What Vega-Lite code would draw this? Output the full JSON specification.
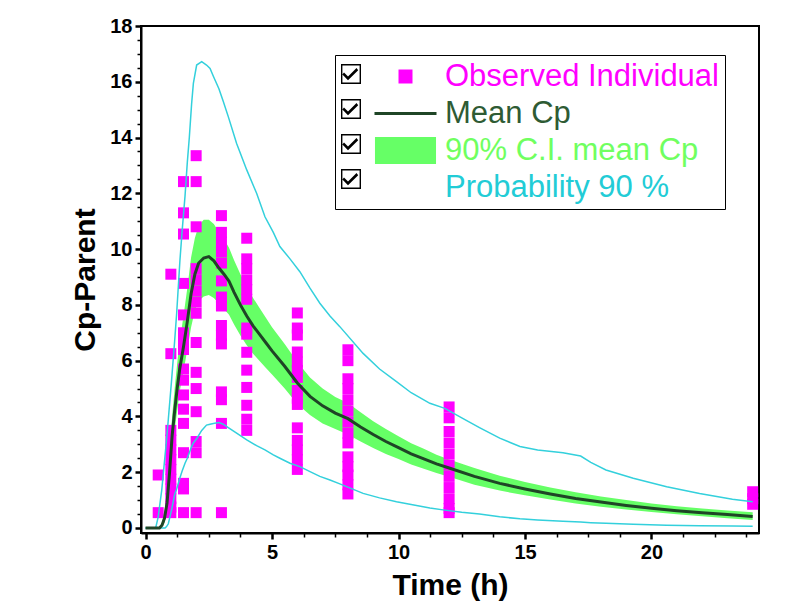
{
  "$schema": "https://vega.github.io/schema/vega-lite/v6.json",
  "width": 618,
  "height": 507,
  "autosize": {"type": "none"},
  "padding": {"left": 141, "top": 26, "right": 33, "bottom": 77},
  "background": "white",
  "config": {
    "view": {"stroke": "black", "strokeWidth": 2},
    "font": "Liberation Sans",
    "axis": {
      "labelFont": "Liberation Sans Narrow, Liberation Sans",
      "labelFontWeight": "bold",
      "labelFontSize": 20,
      "labelColor": "black",
      "titleFont": "Liberation Sans",
      "titleFontWeight": "bold",
      "titleFontSize": 30,
      "titleColor": "black",
      "domainColor": "black",
      "domainWidth": 2,
      "tickColor": "black",
      "grid": false
    }
  },
  "datasets": {
    "obs": [
      {"t": 0.5, "c": 1.9}, {"t": 0.5, "c": 0.55},
      {"t": 1, "c": 9.1}, {"t": 1, "c": 6.25}, {"t": 1, "c": 3.5}, {"t": 1, "c": 3.15}, {"t": 1, "c": 2.8}, {"t": 1, "c": 2.45}, {"t": 1, "c": 2.1}, {"t": 1, "c": 1.75}, {"t": 1, "c": 1.4}, {"t": 1, "c": 1.05}, {"t": 1, "c": 0.75}, {"t": 1, "c": 0.55},
      {"t": 1.5, "c": 12.42}, {"t": 1.5, "c": 11.3}, {"t": 1.5, "c": 10.54}, {"t": 1.5, "c": 8.77}, {"t": 1.5, "c": 7.64}, {"t": 1.5, "c": 7.0}, {"t": 1.5, "c": 6.7}, {"t": 1.5, "c": 6.4}, {"t": 1.5, "c": 5.7}, {"t": 1.5, "c": 5.3}, {"t": 1.5, "c": 4.77}, {"t": 1.5, "c": 4.26}, {"t": 1.5, "c": 3.75}, {"t": 1.5, "c": 2.7}, {"t": 1.5, "c": 1.6}, {"t": 1.5, "c": 1.4}, {"t": 1.5, "c": 0.55},
      {"t": 2, "c": 13.35}, {"t": 2, "c": 12.42}, {"t": 2, "c": 10.8}, {"t": 2, "c": 9.3}, {"t": 2, "c": 8.9}, {"t": 2, "c": 8.5}, {"t": 2, "c": 8.1}, {"t": 2, "c": 7.7}, {"t": 2, "c": 6.65}, {"t": 2, "c": 5.58}, {"t": 2, "c": 5.0}, {"t": 2, "c": 4.17}, {"t": 2, "c": 3.1}, {"t": 2, "c": 2.7}, {"t": 2, "c": 0.55},
      {"t": 3, "c": 11.2}, {"t": 3, "c": 10.6}, {"t": 3, "c": 10.25}, {"t": 3, "c": 9.9}, {"t": 3, "c": 9.5}, {"t": 3, "c": 8.86}, {"t": 3, "c": 8.28}, {"t": 3, "c": 7.96}, {"t": 3, "c": 7.26}, {"t": 3, "c": 6.9}, {"t": 3, "c": 6.6}, {"t": 3, "c": 4.88}, {"t": 3, "c": 4.6}, {"t": 3, "c": 3.75}, {"t": 3, "c": 0.55},
      {"t": 4, "c": 10.39}, {"t": 4, "c": 9.65}, {"t": 4, "c": 9.3}, {"t": 4, "c": 8.9}, {"t": 4, "c": 8.55}, {"t": 4, "c": 8.2}, {"t": 4, "c": 7.17}, {"t": 4, "c": 6.95}, {"t": 4, "c": 6.3}, {"t": 4, "c": 5.66}, {"t": 4, "c": 5.04}, {"t": 4, "c": 4.4}, {"t": 4, "c": 3.9}, {"t": 4, "c": 3.5},
      {"t": 6, "c": 7.71}, {"t": 6, "c": 7.17}, {"t": 6, "c": 6.92}, {"t": 6, "c": 6.31}, {"t": 6, "c": 5.95}, {"t": 6, "c": 5.65}, {"t": 6, "c": 5.4}, {"t": 6, "c": 4.93}, {"t": 6, "c": 4.65}, {"t": 6, "c": 4.43}, {"t": 6, "c": 3.59}, {"t": 6, "c": 3.14}, {"t": 6, "c": 2.8}, {"t": 6, "c": 2.45}, {"t": 6, "c": 2.1},
      {"t": 8, "c": 6.39}, {"t": 8, "c": 6.0}, {"t": 8, "c": 5.35}, {"t": 8, "c": 5.0}, {"t": 8, "c": 4.6}, {"t": 8, "c": 4.2}, {"t": 8, "c": 3.8}, {"t": 8, "c": 3.4}, {"t": 8, "c": 3.05}, {"t": 8, "c": 2.55}, {"t": 8, "c": 2.2}, {"t": 8, "c": 1.9}, {"t": 8, "c": 1.55}, {"t": 8, "c": 1.22},
      {"t": 12, "c": 4.34}, {"t": 12, "c": 3.95}, {"t": 12, "c": 3.46}, {"t": 12, "c": 3.05}, {"t": 12, "c": 2.65}, {"t": 12, "c": 2.25}, {"t": 12, "c": 1.85}, {"t": 12, "c": 1.45}, {"t": 12, "c": 1.05}, {"t": 12, "c": 0.7}, {"t": 12, "c": 0.55},
      {"t": 24, "c": 1.3}, {"t": 24, "c": 1.05}, {"t": 24, "c": 0.85}
    ],
    "ci": [
      {"t": 0, "m": 0, "lo": 0, "hi": 0},
      {"t": 0.55, "m": 0, "lo": 0, "hi": 0},
      {"t": 0.65, "m": 0.1, "lo": 0.05, "hi": 0.2},
      {"t": 0.75, "m": 0.35, "lo": 0.2, "hi": 0.6},
      {"t": 0.85, "m": 0.9, "lo": 0.6, "hi": 1.4},
      {"t": 0.95, "m": 2.0, "lo": 1.5, "hi": 2.7},
      {"t": 1.05, "m": 3.3, "lo": 2.6, "hi": 4.0},
      {"t": 1.15, "m": 4.2, "lo": 3.5, "hi": 5.0},
      {"t": 1.25, "m": 5.0, "lo": 4.2, "hi": 5.9},
      {"t": 1.35, "m": 5.7, "lo": 4.9, "hi": 6.7},
      {"t": 1.5, "m": 6.5, "lo": 5.6, "hi": 7.6},
      {"t": 1.65, "m": 7.4, "lo": 6.4, "hi": 8.6},
      {"t": 1.8, "m": 8.4, "lo": 7.2, "hi": 9.7},
      {"t": 1.95, "m": 9.1, "lo": 7.8, "hi": 10.4},
      {"t": 2.1, "m": 9.5, "lo": 8.15, "hi": 10.85},
      {"t": 2.3, "m": 9.68, "lo": 8.3, "hi": 11.05},
      {"t": 2.5, "m": 9.73, "lo": 8.35, "hi": 11.05},
      {"t": 2.7, "m": 9.58, "lo": 8.25, "hi": 10.9},
      {"t": 2.9, "m": 9.32, "lo": 8.05, "hi": 10.6},
      {"t": 3.1, "m": 9.1, "lo": 7.85, "hi": 10.35},
      {"t": 3.3, "m": 8.85, "lo": 7.65, "hi": 10.05},
      {"t": 3.5, "m": 8.45, "lo": 7.3, "hi": 9.6},
      {"t": 3.75, "m": 8.0, "lo": 6.9, "hi": 9.1},
      {"t": 4.0, "m": 7.6, "lo": 6.55, "hi": 8.65},
      {"t": 4.25, "m": 7.25, "lo": 6.25, "hi": 8.25},
      {"t": 4.5, "m": 6.95, "lo": 6.0, "hi": 7.9},
      {"t": 4.75, "m": 6.65, "lo": 5.75, "hi": 7.55},
      {"t": 5.0, "m": 6.35, "lo": 5.5, "hi": 7.2},
      {"t": 5.5, "m": 5.8, "lo": 5.0, "hi": 6.6},
      {"t": 6.0, "m": 5.2, "lo": 4.45, "hi": 5.95},
      {"t": 6.5, "m": 4.72, "lo": 4.05, "hi": 5.4},
      {"t": 7.0, "m": 4.38, "lo": 3.75, "hi": 5.0},
      {"t": 7.5, "m": 4.12, "lo": 3.55, "hi": 4.7},
      {"t": 8.0, "m": 3.92, "lo": 3.35, "hi": 4.48},
      {"t": 8.5, "m": 3.62, "lo": 3.1, "hi": 4.15},
      {"t": 9.0, "m": 3.35, "lo": 2.87, "hi": 3.83},
      {"t": 9.5, "m": 3.1, "lo": 2.65, "hi": 3.55},
      {"t": 10, "m": 2.88, "lo": 2.47, "hi": 3.29},
      {"t": 10.5, "m": 2.66, "lo": 2.28, "hi": 3.04},
      {"t": 11, "m": 2.48, "lo": 2.12, "hi": 2.84},
      {"t": 11.5, "m": 2.3, "lo": 1.97, "hi": 2.63},
      {"t": 12, "m": 2.15, "lo": 1.84, "hi": 2.46},
      {"t": 13, "m": 1.85, "lo": 1.55, "hi": 2.15},
      {"t": 14, "m": 1.6, "lo": 1.34, "hi": 1.87},
      {"t": 15, "m": 1.4, "lo": 1.17, "hi": 1.65},
      {"t": 16, "m": 1.22, "lo": 1.02, "hi": 1.45},
      {"t": 17, "m": 1.06, "lo": 0.88, "hi": 1.28},
      {"t": 18, "m": 0.93, "lo": 0.76, "hi": 1.13},
      {"t": 19, "m": 0.81, "lo": 0.66, "hi": 1.0},
      {"t": 20, "m": 0.71, "lo": 0.57, "hi": 0.88},
      {"t": 21, "m": 0.62, "lo": 0.49, "hi": 0.78},
      {"t": 22, "m": 0.55, "lo": 0.42, "hi": 0.7},
      {"t": 23, "m": 0.48, "lo": 0.35, "hi": 0.63},
      {"t": 24, "m": 0.41, "lo": 0.29, "hi": 0.56}
    ],
    "pi": [
      {"t": 0, "p5": 0, "p95": 0},
      {"t": 0.4, "p5": 0, "p95": 0},
      {"t": 0.5, "p5": 0, "p95": 0.4},
      {"t": 0.64, "p5": 0, "p95": 1.36},
      {"t": 0.77, "p5": 0, "p95": 2.6},
      {"t": 0.83, "p5": 0.05, "p95": 3.16},
      {"t": 0.9, "p5": 0.15, "p95": 3.9},
      {"t": 1.03, "p5": 0.65, "p95": 5.31},
      {"t": 1.15, "p5": 1.2, "p95": 6.7},
      {"t": 1.23, "p5": 1.4, "p95": 7.7},
      {"t": 1.36, "p5": 1.8, "p95": 9.61},
      {"t": 1.45, "p5": 2.05, "p95": 10.7},
      {"t": 1.56, "p5": 2.32, "p95": 11.9},
      {"t": 1.65, "p5": 2.5, "p95": 13.1},
      {"t": 1.73, "p5": 2.7, "p95": 14.0},
      {"t": 1.82, "p5": 2.92, "p95": 15.2},
      {"t": 1.89, "p5": 3.05, "p95": 15.94},
      {"t": 2.02, "p5": 3.2, "p95": 16.6},
      {"t": 2.22, "p5": 3.5, "p95": 16.72},
      {"t": 2.41, "p5": 3.69, "p95": 16.6},
      {"t": 2.55, "p5": 3.72, "p95": 16.48},
      {"t": 2.68, "p5": 3.75, "p95": 16.2},
      {"t": 2.9, "p5": 3.78, "p95": 15.75},
      {"t": 3.07, "p5": 3.72, "p95": 15.3},
      {"t": 3.27, "p5": 3.6, "p95": 14.75},
      {"t": 3.6, "p5": 3.4, "p95": 13.79},
      {"t": 4.0, "p5": 3.16, "p95": 12.84},
      {"t": 4.39, "p5": 2.95, "p95": 12.0},
      {"t": 4.72, "p5": 2.8, "p95": 11.16},
      {"t": 5.05, "p5": 2.62, "p95": 10.6},
      {"t": 5.31, "p5": 2.5, "p95": 10.09},
      {"t": 5.71, "p5": 2.32, "p95": 9.65},
      {"t": 6.1, "p5": 2.2, "p95": 9.19},
      {"t": 6.5, "p5": 2.02, "p95": 8.6},
      {"t": 6.89, "p5": 1.85, "p95": 8.06},
      {"t": 7.29, "p5": 1.72, "p95": 7.6},
      {"t": 7.68, "p5": 1.58, "p95": 7.22},
      {"t": 8.6, "p5": 1.24, "p95": 6.26},
      {"t": 9.25, "p5": 1.08, "p95": 5.7},
      {"t": 9.92, "p5": 0.94, "p95": 5.25},
      {"t": 10.5, "p5": 0.84, "p95": 4.85},
      {"t": 11.24, "p5": 0.72, "p95": 4.47},
      {"t": 11.83, "p5": 0.64, "p95": 4.29},
      {"t": 12.5, "p5": 0.56, "p95": 3.95},
      {"t": 13.2, "p5": 0.5, "p95": 3.6},
      {"t": 14.0, "p5": 0.4, "p95": 3.22},
      {"t": 14.8, "p5": 0.33, "p95": 2.92},
      {"t": 15.5, "p5": 0.29, "p95": 2.8},
      {"t": 16.5, "p5": 0.24, "p95": 2.7},
      {"t": 17.2, "p5": 0.21, "p95": 2.58},
      {"t": 17.6, "p5": 0.19, "p95": 2.35},
      {"t": 18.2, "p5": 0.17, "p95": 2.08},
      {"t": 19.28, "p5": 0.13, "p95": 1.78},
      {"t": 20.6, "p5": 0.1, "p95": 1.48},
      {"t": 21.9, "p5": 0.08, "p95": 1.24},
      {"t": 23.2, "p5": 0.07, "p95": 1.03},
      {"t": 24, "p5": 0.06, "p95": 0.94}
    ]
  },
  "resolve": {"axis": {"x": "independent", "y": "independent"}},
  "layer": [
    {
      "data": {"name": "ci"},
      "mark": {"type": "area", "opacity": 1},
      "encoding": {
        "x": {"field": "t", "type": "quantitative",
          "scale": {"domain": [-0.18, 24.25], "nice": false, "zero": false},
          "axis": {"orient": "bottom", "values": [0, 5, 10, 15, 20], "tickSize": 6, "tickWidth": 2.5, "labelPadding": 3, "title": "Time (h)", "titlePadding": 8}},
        "y": {"field": "lo", "type": "quantitative",
          "scale": {"domain": [-0.18, 18], "nice": false, "zero": false},
          "axis": {"orient": "left", "values": [0, 2, 4, 6, 8, 10, 12, 14, 16, 18], "tickSize": 6, "tickWidth": 2.5, "labelPadding": 3, "title": "Cp-Parent", "titlePadding": 9}},
        "y2": {"field": "hi"},
        "color": {
          "datum": "90% C.I. mean Cp", "type": "nominal",
          "scale": {"domain": ["Observed Individual", "Mean Cp", "90% C.I. mean Cp", "Probability 90 %"], "range": ["#ff00ff", "#1f4526", "#66ff66", "#33d0dc"]},
          "legend": {
            "title": null, "orient": "none", "legendX": 194, "legendY": 29, "direction": "vertical",
            "padding": 6, "strokeColor": "black",
            "labelFont": "Liberation Sans", "labelFontSize": 31, "labelFontWeight": "normal", "labelLimit": 500,
            "labelColor": {"expr": "datum.value === 'Observed Individual' ? '#ff00ff' : datum.value === 'Mean Cp' ? '#2e5b34' : datum.value === '90% C.I. mean Cp' ? '#70ff60' : '#22ccd6'"},
            "symbolSize": 196, "symbolStrokeWidth": 0, "symbolOffset": 49, "labelOffset": 24, "rowPadding": 5
          }
        }
      }
    },
    {
      "data": {"name": "obs"},
      "mark": {"type": "point", "filled": true, "size": 121, "opacity": 1},
      "encoding": {
        "x": {"field": "t", "type": "quantitative",
          "axis": {"orient": "bottom", "values": [1.25, 2.5, 3.75, 6.25, 7.5, 8.75, 11.25, 12.5, 13.75, 16.25, 17.5, 18.75, 21.25, 22.5, 23.75], "labels": false, "domain": false, "tickSize": 4, "tickWidth": 1.5, "title": null}},
        "y": {"field": "c", "type": "quantitative",
          "axis": {"orient": "left", "values": [0.5, 1, 1.5, 2.5, 3, 3.5, 4.5, 5, 5.5, 6.5, 7, 7.5, 8.5, 9, 9.5, 10.5, 11, 11.5, 12.5, 13, 13.5, 14.5, 15, 15.5, 16.5, 17, 17.5], "labels": false, "domain": false, "tickSize": 4, "tickWidth": 1.5, "title": null}},
        "color": {"datum": "Observed Individual", "type": "nominal"},
        "shape": {
          "datum": "Observed Individual", "type": "nominal",
          "scale": {"domain": ["Observed Individual", "Mean Cp", "90% C.I. mean Cp", "Probability 90 %"],
            "range": ["M-1,-1H1V1H-1Z", "M-4.43,-0.21H4.43V0.21H-4.43Z", "M-4.36,-1.93H4.36V1.93H-4.36Z", "M0,0"]},
          "legend": {"title": null}
        }
      }
    },
    {
      "data": {"name": "obs"},
      "mark": {"type": "point", "filled": true, "color": "black", "size": 0},
      "encoding": {
        "x": {"field": "t", "type": "quantitative", "axis": null},
        "y": {"field": "c", "type": "quantitative", "axis": null},
        "opacity": {
          "datum": "c1", "type": "ordinal",
          "scale": {"domain": ["c1", "c2", "c3", "c4"], "range": [1, 1, 1, 1]},
          "legend": {
            "title": null, "orient": "none", "legendX": 189, "legendY": 27, "direction": "vertical",
            "padding": 6, "labelExpr": "'X'", "labelOpacity": 0, "labelFontSize": 30, "labelFont": "Liberation Sans",
            "symbolSize": 400, "symbolStrokeWidth": 0, "symbolFillColor": "black", "rowPadding": 5,
            "symbolType": "M-1,-1H1V1H-1ZM-0.86,-0.86V0.86H0.86V-0.86ZM-0.7,-0.15L-0.3,0.25L0.55,-0.6L0.72,-0.38L-0.3,0.62L-0.86,0.06Z"
          }
        }
      }
    },
    {
      "data": {"name": "pi"},
      "mark": {"type": "line", "strokeWidth": 1.5},
      "encoding": {
        "x": {"field": "t", "type": "quantitative", "axis": null},
        "y": {"field": "p95", "type": "quantitative", "axis": null},
        "color": {"datum": "Probability 90 %", "type": "nominal"}
      }
    },
    {
      "data": {"name": "pi"},
      "mark": {"type": "line", "strokeWidth": 1.5},
      "encoding": {
        "x": {"field": "t", "type": "quantitative", "axis": null},
        "y": {"field": "p5", "type": "quantitative", "axis": null},
        "color": {"datum": "Probability 90 %", "type": "nominal"}
      }
    },
    {
      "data": {"name": "ci"},
      "mark": {"type": "line", "strokeWidth": 3},
      "encoding": {
        "x": {"field": "t", "type": "quantitative", "axis": null},
        "y": {"field": "m", "type": "quantitative", "axis": null},
        "color": {"datum": "Mean Cp", "type": "nominal"}
      }
    }
  ]
}
